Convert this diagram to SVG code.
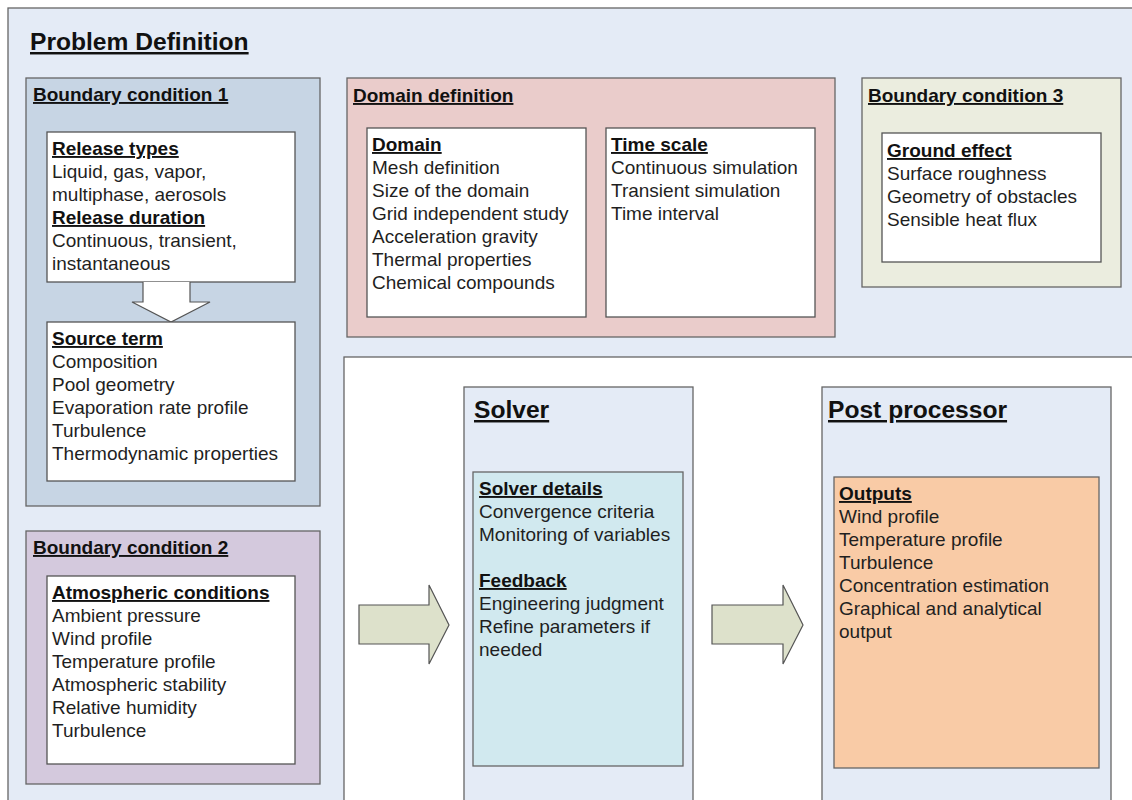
<svg xmlns="http://www.w3.org/2000/svg" width="1132" height="800" viewBox="0 0 1132 800">
<style>
text{font-family:"Liberation Sans",Arial,sans-serif;font-size:19px;fill:#1f1f1f}
.h{font-weight:bold;text-decoration:underline;fill:#111}
.t{font-size:24.6px}
.box{stroke:#666;stroke-width:1.3}
.in{fill:#fff;stroke:#555;stroke-width:1.3}
.arr{fill:#dde1cb;stroke:#555;stroke-width:1.2}
</style>
<rect width="1132" height="800" fill="#fff"/>
<g id="problem-definition">
<rect x="8" y="8" width="1140" height="800" fill="#e4ebf6" class="box"/>
<text x="30" y="50" class="h t">Problem Definition</text>
</g>
<g id="bc1">
<rect x="26" y="78" width="294" height="428" fill="#c7d5e4" class="box"/>
<text x="33" y="101" class="h">Boundary condition 1</text>
<rect x="47" y="132" width="248" height="150" class="in"/>
<text x="52" y="155" class="h">Release types</text>
<text x="52" y="178">Liquid, gas, vapor,</text>
<text x="52" y="201">multiphase, aerosols</text>
<text x="52" y="224" class="h">Release duration</text>
<text x="52" y="247">Continuous, transient,</text>
<text x="52" y="270">instantaneous</text>
<path d="M143 282 V302 H132 L171 322 L210 302 H190 V282" fill="#fff" stroke="#555" stroke-width="1.2"/>
<rect x="47" y="322" width="248" height="159" class="in"/>
<text x="52" y="345" class="h">Source term</text>
<text x="52" y="368">Composition</text>
<text x="52" y="391">Pool geometry</text>
<text x="52" y="414">Evaporation rate profile</text>
<text x="52" y="437">Turbulence</text>
<text x="52" y="460">Thermodynamic properties</text>
</g>
<g id="bc2">
<rect x="26" y="531" width="294" height="253" fill="#d4c9dd" class="box"/>
<text x="33" y="554" class="h">Boundary condition 2</text>
<rect x="47" y="576" width="248" height="188" class="in"/>
<text x="52" y="599" class="h">Atmospheric conditions</text>
<text x="52" y="622">Ambient pressure</text>
<text x="52" y="645">Wind profile</text>
<text x="52" y="668">Temperature profile</text>
<text x="52" y="691">Atmospheric stability</text>
<text x="52" y="714">Relative humidity</text>
<text x="52" y="737">Turbulence</text>
</g>
<g id="domain-definition">
<rect x="347" y="78" width="488" height="259" fill="#eacccb" class="box"/>
<text x="353" y="102" class="h">Domain definition</text>
<rect x="367" y="128" width="219" height="189" class="in"/>
<text x="372" y="151" class="h">Domain</text>
<text x="372" y="174">Mesh definition</text>
<text x="372" y="197">Size of the domain</text>
<text x="372" y="220">Grid independent study</text>
<text x="372" y="243">Acceleration gravity</text>
<text x="372" y="266">Thermal properties</text>
<text x="372" y="289">Chemical compounds</text>
<rect x="606" y="128" width="209" height="189" class="in"/>
<text x="611" y="151" class="h">Time scale</text>
<text x="611" y="174">Continuous simulation</text>
<text x="611" y="197">Transient simulation</text>
<text x="611" y="220">Time interval</text>
</g>
<g id="bc3">
<rect x="862" y="78" width="259" height="209" fill="#ebeddf" class="box"/>
<text x="868" y="102" class="h">Boundary condition 3</text>
<rect x="882" y="133" width="219" height="129" class="in"/>
<text x="887" y="157" class="h">Ground effect</text>
<text x="887" y="180">Surface roughness</text>
<text x="887" y="203">Geometry of obstacles</text>
<text x="887" y="226">Sensible heat flux</text>
</g>
<g id="process-frame">
<rect x="344" y="357" width="800" height="460" fill="#fff" class="box"/>
</g>
<g id="solver">
<rect x="464" y="387" width="229" height="430" fill="#e4ebf6" class="box"/>
<text x="474" y="418" class="h t">Solver</text>
<rect x="473" y="472" width="210" height="294" fill="#d1e9ef" class="box"/>
<text x="479" y="495" class="h">Solver details</text>
<text x="479" y="518">Convergence criteria</text>
<text x="479" y="541">Monitoring of variables</text>
<text x="479" y="587" class="h">Feedback</text>
<text x="479" y="610">Engineering judgment</text>
<text x="479" y="633">Refine parameters if</text>
<text x="479" y="656">needed</text>
</g>
<g id="post-processor">
<rect x="822" y="387" width="289" height="430" fill="#e4ebf6" class="box"/>
<text x="828" y="418" class="h t">Post processor</text>
<rect x="834" y="477" width="265" height="291" fill="#f9cba6" class="box"/>
<text x="839" y="500" class="h">Outputs</text>
<text x="839" y="523">Wind profile</text>
<text x="839" y="546">Temperature profile</text>
<text x="839" y="569">Turbulence</text>
<text x="839" y="592">Concentration estimation</text>
<text x="839" y="615">Graphical and analytical</text>
<text x="839" y="638">output</text>
</g>
<g id="connectors">
<path d="M359 605 H429 V585 L449 625 L429 664 V644 H359 Z" class="arr"/>
<path d="M712 605 H783 V585 L803 625 L783 664 V644 H712 Z" class="arr"/>
</g>
</svg>
